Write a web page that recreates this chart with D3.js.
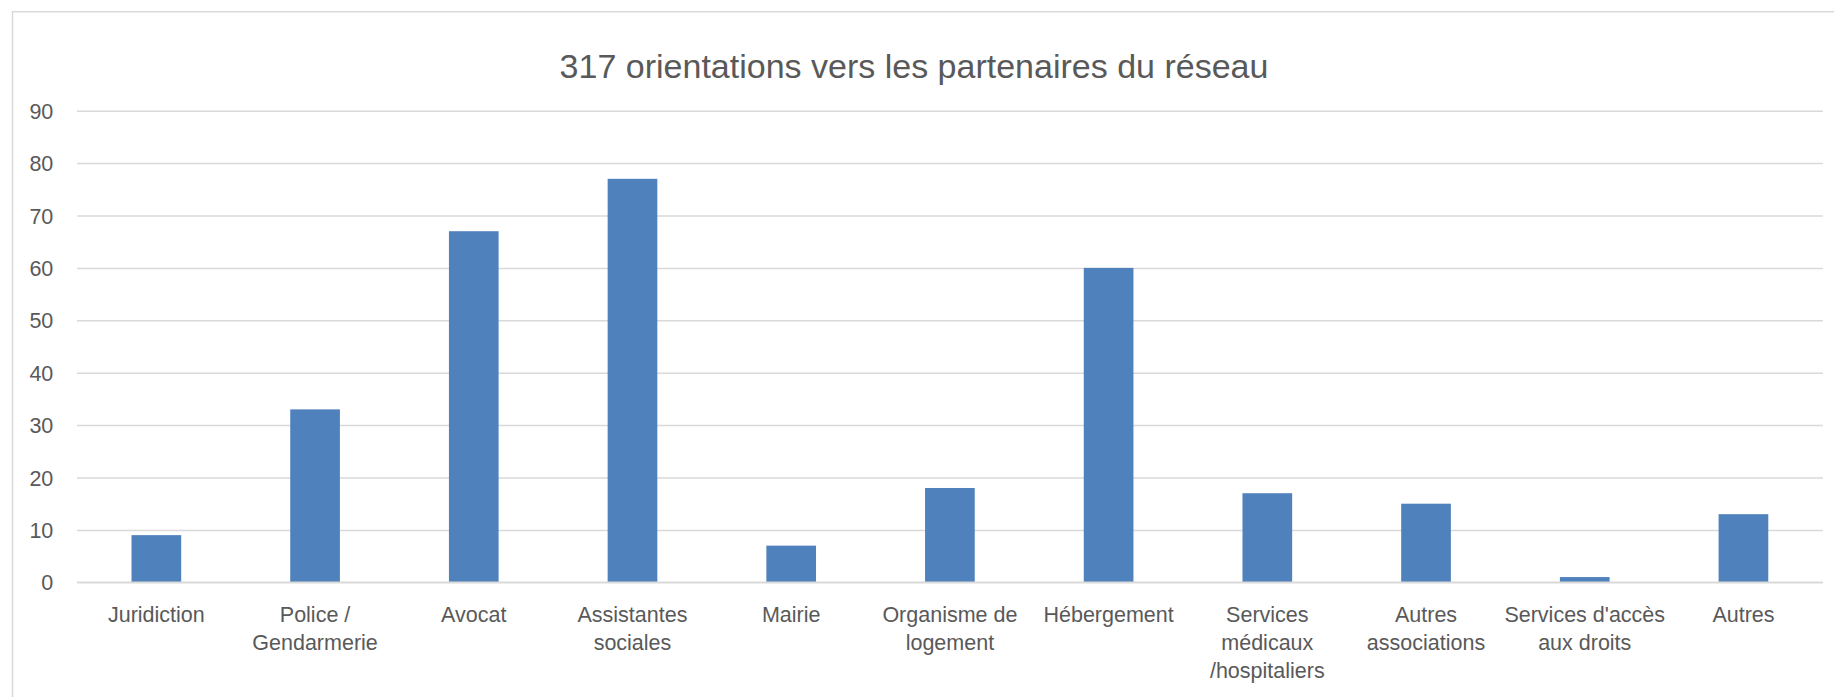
<!DOCTYPE html>
<html>
<head>
<meta charset="utf-8">
<script src="https://cdn.jsdelivr.net/npm/d3@7"></script>
<style>
  html, body { margin: 0; padding: 0; background: #fff; }
  text { font-family: "Liberation Sans", Arial, sans-serif; fill: #595959; }
</style>
</head>
<body>
<div id="chart"></div>
<script>
// data
var title = "317 orientations vers les partenaires du réseau";
var categories = [
    "Juridiction",
    "Police /\nGendarmerie",
    "Avocat",
    "Assistantes\nsociales",
    "Mairie",
    "Organisme de\nlogement",
    "Hébergement",
    "Services\nmédicaux\n/hospitaliers",
    "Autres\nassociations",
    "Services d'accès\naux droits",
    "Autres"
];
var values = [9, 33, 67, 77, 7, 18, 60, 17, 15, 1, 13];
var yTicks = [0, 10, 20, 30, 40, 50, 60, 70, 80, 90];

const width = 1834, height = 697;
var margin = { top: 110.7, right: 11.2, bottom: 114.7, left: 77 };
const plot_width = width - margin.left - margin.right,
    plot_height = height - margin.top - margin.bottom;

var svg = d3.select('#chart')
    .append('svg')
    .attr('width', width)
    .attr('height', height);

// chart area border (extends past the right and bottom edges)
svg.append('rect')
    .attr('x', 12.5)
    .attr('y', 11.7)
    .attr('width', width + 20)
    .attr('height', height + 20)
    .attr('fill', 'none')
    .attr('stroke', '#d9d9d9')
    .attr('stroke-width', 1.5);

svg.append('text')
    .attr('x', 914)
    .attr('y', 78.3)
    .attr('text-anchor', 'middle')
    .style('font-size', '34px')
    .text(title);

var plot = svg.append('g')
    .attr('transform', `translate(${margin.left},${margin.top})`);

var x = d3.scaleBand()
    .domain(categories)
    .range([0, plot_width])
    .paddingInner(0.687)
    .paddingOuter(0.3435);

var y = d3.scaleLinear()
    .domain([0, 90])
    .range([plot_height, 0]);

// gridlines + y labels
var yAxis = d3.axisLeft(y)
    .tickValues(yTicks)
    .tickSize(-plot_width)
    .tickPadding(23.7);

plot.append('g')
    .attr('class', 'y_axis')
    .call(yAxis)
    .call(g => g.select('.domain').remove())
    .call(g => g.selectAll('.tick line')
        .attr('stroke', '#d9d9d9')
        .attr('stroke-width', 1.5))
    .call(g => g.selectAll('.tick text')
        .attr('fill', '#595959')
        .attr('dy', '0.35em')
        .style('font-size', '21.5px')
        .style('font-family', '"Liberation Sans", Arial, sans-serif'));

// bars
plot.selectAll('.bar')
    .data(values)
    .enter()
    .append('rect')
    .attr('class', 'bar')
    .attr('x', (d, i) => x(categories[i]))
    .attr('y', d => y(d))
    .attr('width', x.bandwidth())
    .attr('height', d => y(0) - y(d))
    .attr('fill', '#4f81bd');

// x axis line at zero
plot.append('line')
    .attr('x1', 0)
    .attr('x2', plot_width)
    .attr('y1', y(0))
    .attr('y2', y(0))
    .attr('stroke', '#d9d9d9')
    .attr('stroke-width', 1.5);

// category labels, wrapped as in the source
var xl = plot.append('g').attr('class', 'x_axis');
categories.forEach(function (c) {
    var t = xl.append('text')
        .attr('x', x(c) + x.bandwidth() / 2)
        .attr('y', plot_height + 39.4)
        .attr('text-anchor', 'middle')
        .style('font-size', '21.5px');
    c.split('\n').forEach(function (line, j) {
        t.append('tspan')
            .attr('x', x(c) + x.bandwidth() / 2)
            .attr('dy', j == 0 ? 0 : 28.3)
            .text(line);
    });
});
</script>
</body>
</html>
